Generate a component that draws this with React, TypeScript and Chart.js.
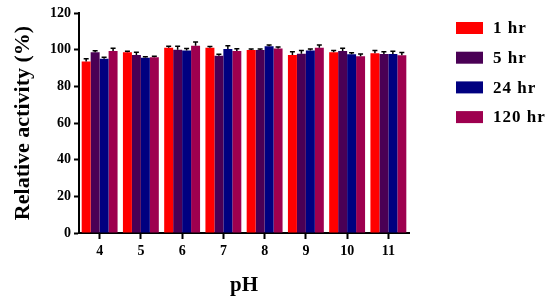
import { useEffect, useRef } from "react";
import { Chart, registerables } from "chart.js";
Chart.register(...registerables);

const categories = ["4", "5", "6", "7", "8", "9", "10", "11"];
const seriesNames = ["1 hr", "5 hr", "24 hr", "120 hr"];
const seriesColors = ["#FF0000", "#4A0055", "#000080", "#9E004F"];
const values1hr = [93.5, 98.6, 101.1, 101.1, 99.8, 97.1, 98.6, 98.0];
const values5hr = [98.6, 97.1, 100.0, 96.7, 99.8, 97.8, 99.3, 97.6];
const values24hr = [95.0, 95.6, 99.6, 100.4, 101.8, 99.5, 97.5, 97.6];
const values120hr = [99.3, 95.8, 102.2, 99.3, 100.7, 101.1, 96.4, 96.9];
const err1hr = [1.5, 0.6, 0.8, 0.6, 0.6, 1.8, 1.0, 1.5];
const err5hr = [0.8, 1.5, 1.8, 0.8, 0.6, 1.8, 1.5, 1.2];
const err24hr = [0.8, 0.6, 1.0, 1.8, 0.8, 0.8, 0.8, 1.5];
const err120hr = [1.5, 0.6, 2.0, 1.2, 0.8, 1.5, 1.2, 1.5];
const yTicksMin = 0;
const yTicksMax = 120;
const yTickStep = 20;

const allValues = [values1hr, values5hr, values24hr, values120hr];
const allErrors = [err1hr, err5hr, err24hr, err120hr];

const errorBarPlugin = {
  id: "errorBars",
  afterDatasetsDraw(chart: any) {
    const ctx = chart.ctx;
    const yScale = chart.scales.y;
    ctx.save();
    ctx.strokeStyle = "#000";
    ctx.lineWidth = 1.5;
    chart.data.datasets.forEach((ds: any, i: number) => {
      const meta = chart.getDatasetMeta(i);
      meta.data.forEach((bar: any, j: number) => {
        const v = ds.data[j];
        const e = allErrors[i][j];
        const yTop = yScale.getPixelForValue(v + e);
        const yBase = yScale.getPixelForValue(v);
        ctx.beginPath();
        ctx.moveTo(bar.x, yBase);
        ctx.lineTo(bar.x, yTop);
        ctx.moveTo(bar.x - 2.5, yTop);
        ctx.lineTo(bar.x + 2.5, yTop);
        ctx.stroke();
      });
    });
    ctx.restore();
  },
};

const legendPlugin = {
  id: "customLegend",
  afterDraw(chart: any) {
    const ctx = chart.ctx;
    ctx.save();
    const x0 = 456;
    const yStart = 28;
    const gap = 29.7;
    ctx.font = "bold 17px 'Liberation Serif', serif";
    ctx.textBaseline = "middle";
    ctx.fillStyle = "#000";
    seriesNames.forEach((name, i) => {
      const yc = yStart + i * gap;
      ctx.fillStyle = seriesColors[i];
      ctx.fillRect(x0, yc - 6, 27, 12);
      ctx.fillStyle = "#000";
      const chars = name.split("");
      let x = x0 + 37;
      chars.forEach((c) => {
        ctx.fillText(c, x, yc + 1);
        x += ctx.measureText(c).width + 1;
      });
    });
    ctx.restore();
  },
};

export default function App() {
  const ref = useRef<HTMLCanvasElement>(null);
  useEffect(() => {
    if (!ref.current) return;
    const font = "'Liberation Serif', 'Times New Roman', serif";
    const chart = new Chart(ref.current, {
      type: "bar",
      data: {
        labels: categories,
        datasets: seriesNames.map((name, i) => ({
          label: name,
          data: allValues[i],
          backgroundColor: seriesColors[i],
          borderWidth: 0,
          categoryPercentage: 0.87,
          barPercentage: 1.0,
        })),
      },
      options: {
        responsive: false,
        animation: false,
        layout: { padding: { left: 0, top: 13, right: 141, bottom: 0 } },
        plugins: {
          legend: { display: false },
          tooltip: { enabled: false },
        },
        scales: {
          x: {
            offset: true,
            grid: {
              display: true,
              drawOnChartArea: false,
              drawTicks: true,
              tickLength: 6,
              tickWidth: 2,
              tickColor: "#000",
              offset: false,
            },
            border: { display: true, color: "#000", width: 2 },
            ticks: {
              color: "#000",
              font: { family: font, size: 14, weight: "bold" },
              padding: 4,
              maxRotation: 0,
            },
            title: {
              display: true,
              text: "pH",
              color: "#000",
              font: { family: font, size: 21, weight: "bold" },
              padding: { top: 0, bottom: 8 },
            },
            afterFit(scale: any) {
              scale.height = 73;
            },
          },
          y: {
            min: yTicksMin,
            max: yTicksMax,
            grid: {
              display: true,
              drawOnChartArea: false,
              drawTicks: true,
              tickLength: 5,
              tickWidth: 2,
              tickColor: "#000",
            },
            border: { display: true, color: "#000", width: 2 },
            ticks: {
              stepSize: yTickStep,
              color: "#000",
              font: { family: font, size: 14, weight: "bold" },
              padding: 3,
            },
            title: {
              display: true,
              text: "Relative activity (%)",
              color: "#000",
              font: { family: font, size: 22, weight: "bold" },
              padding: { top: 10, bottom: 0 },
            },
            afterFit(scale: any) {
              scale.width = 79;
            },
          },
        },
      },
      plugins: [errorBarPlugin, legendPlugin],
    });
    return () => chart.destroy();
  }, []);
  return (
    <div style={{ position: "fixed", left: 0, top: 0, width: 550, height: 306, background: "#fff" }}>
      <canvas ref={ref} width={550} height={306} style={{ width: 550, height: 306 }} />
    </div>
  );
}
